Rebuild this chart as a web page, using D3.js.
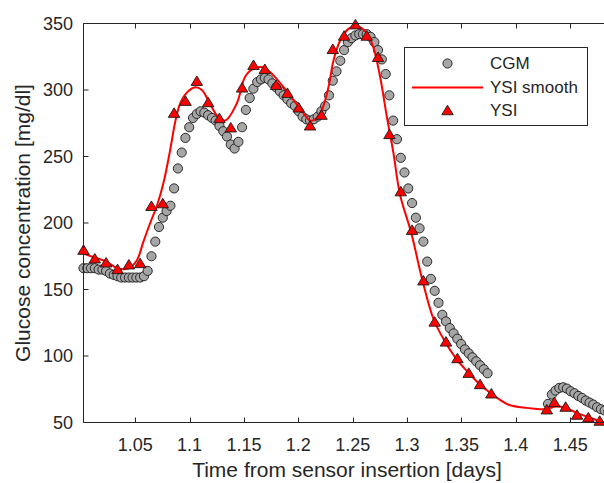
<!DOCTYPE html>
<html>
<head>
<meta charset="utf-8">
<script src="https://cdn.jsdelivr.net/npm/d3@7"></script>
<style>
  html, body { margin: 0; padding: 0; background: #fff; }
  svg { display: block; font-family: "Liberation Sans", Arial, sans-serif; }
</style>
</head>
<body>
<svg id="chart" width="604" height="483"></svg>
<script>
// CGM readings (every 5 min), days since sensor insertion
const cgmTime = [
  1.0025, 1.0060, 1.0094, 1.0129, 1.0164, 1.0199, 1.0233, 1.0268, 1.0303, 1.0338,
  1.0372, 1.0407, 1.0442, 1.0476, 1.0511, 1.0546, 1.0581, 1.0615, 1.0650, 1.0685,
  1.0719, 1.0754, 1.0789, 1.0824, 1.0858, 1.0893, 1.0928, 1.0962, 1.0997, 1.1032,
  1.1067, 1.1101, 1.1136, 1.1171, 1.1206, 1.1240, 1.1275, 1.1310, 1.1344, 1.1379,
  1.1414, 1.1449, 1.1483, 1.1518, 1.1553, 1.1587, 1.1622, 1.1657, 1.1692, 1.1726,
  1.1761, 1.1796, 1.1831, 1.1865, 1.1900, 1.1935, 1.1969, 1.2004, 1.2039, 1.2074,
  1.2108, 1.2143, 1.2178, 1.2212, 1.2247, 1.2282, 1.2317, 1.2351, 1.2386, 1.2421,
  1.2456, 1.2490, 1.2525, 1.2560, 1.2594, 1.2629, 1.2664, 1.2699, 1.2733, 1.2768,
  1.2803, 1.2837, 1.2872, 1.2907, 1.2942, 1.2976, 1.3011, 1.3046, 1.3081, 1.3115,
  1.3150, 1.3185, 1.3219, 1.3254, 1.3289, 1.3324, 1.3358, 1.3393, 1.3428, 1.3462,
  1.3497, 1.3532, 1.3567, 1.3601, 1.3636, 1.3671, 1.3706, 1.3740,
  1.4296, 1.4331, 1.4365, 1.4400, 1.4435, 1.4469, 1.4504, 1.4539, 1.4574, 1.4608,
  1.4643, 1.4678, 1.4712, 1.4747, 1.4782, 1.4817, 1.4851, 1.4886
];
const cgmValue = [
  166, 166, 166, 166, 165, 165, 164, 162, 161, 160,
  159, 159, 159, 159, 159, 159, 160, 164, 175, 186,
  197, 204, 209, 213, 226, 241, 253, 264, 272, 279,
  282, 284, 283, 281, 279, 277, 273, 269, 265, 259,
  256, 261, 272, 285, 294, 301, 306, 308, 309, 308,
  305, 302, 299, 296, 293, 290, 288, 284, 280, 278,
  277, 278, 280, 284, 288, 296, 307, 314, 322, 330,
  336, 339, 341, 342, 342, 342, 340, 336, 330, 323,
  312, 296, 277, 263, 249, 238, 226, 215, 204, 196,
  186, 171, 158, 149, 140, 131, 126, 121, 117, 113,
  109, 105, 102, 99, 96, 93, 90, 87,
  64, 71, 74, 76, 76.5, 75.5, 73.5, 72, 70, 68.5,
  66.5, 65, 63.5, 61.5, 60, 59, 58, 57
];

// YSI reference samples
const ysiTime = [
  1.0025, 1.0129, 1.0233, 1.0338, 1.0442, 1.0546, 1.0650, 1.0754, 1.0858, 1.0963,
  1.1067, 1.1171, 1.1275, 1.1379, 1.1483, 1.1588, 1.1692, 1.1796, 1.1900, 1.2004,
  1.2108, 1.2213, 1.2317, 1.2421, 1.2525, 1.2629, 1.2733, 1.2838, 1.2942, 1.3046,
  1.3150, 1.3254, 1.3358, 1.3463, 1.3567, 1.3671, 1.3775,
  1.4285, 1.4354, 1.4458, 1.4563, 1.4667, 1.4771
];
const ysiValue = [
  180, 173.5, 170.5, 165.5, 169, 170, 213, 215, 283, 292,
  307, 291, 279, 272, 302, 319, 316, 304, 298, 287,
  273.5, 281.5, 331, 341, 349.5, 341, 325, 267, 224, 195,
  157, 126, 111, 98.5, 87.5, 79, 72,
  60, 65.5, 62, 56, 54, 51.5
];

// YSI smoothed curve
const smoothTime = [
  1.0025, 1.0130, 1.0234, 1.0338, 1.0442, 1.0516, 1.0576, 1.0638, 1.0700, 1.0760,
  1.0822, 1.0868, 1.0914, 1.0975, 1.1052, 1.1113, 1.1174, 1.1251, 1.1327, 1.1435,
  1.1511, 1.1588, 1.1679, 1.1771, 1.1894, 1.2017, 1.2109, 1.2155, 1.2216, 1.2277,
  1.2323, 1.2384, 1.2461, 1.2538, 1.2630, 1.2690, 1.2752, 1.2814, 1.2874, 1.2936,
  1.3037, 1.3141, 1.3242, 1.3347, 1.3451, 1.3558, 1.3665, 1.3769, 1.3855, 1.3947,
  1.4100, 1.4223, 1.4284, 1.4360, 1.4459, 1.4565, 1.4667, 1.4774, 1.4875
];
const smoothValue = [
  177, 174, 171, 166, 166, 172, 186, 200, 213, 230,
  255, 276, 290, 298, 302, 300, 292, 281, 277, 290,
  310, 316, 317, 311, 299, 286, 277, 278, 285, 302,
  322, 337, 346, 348, 343, 332, 310, 280, 253, 221,
  193, 157, 128, 111, 98, 88, 79, 72, 67, 63,
  61, 60, 60, 62, 61, 57, 54, 51, 49
];

const xTicks = [1.05, 1.1, 1.15, 1.2, 1.25, 1.3, 1.35, 1.4, 1.45];
const xTickLabels = ['1.05', '1.1', '1.15', '1.2', '1.25', '1.3', '1.35', '1.4', '1.45'];
const yTicks = [50, 100, 150, 200, 250, 300, 350];

const legendNames = ['CGM', 'YSI smooth', 'YSI'];

const AXIS_COLOR = '#262626';
const CGM_FILL = '#a6a6a6';
const RED = '#ff0000';

const svg = d3.select('#chart');

const x = d3.scaleLinear().domain([1.0025, 1.4875]).range([83.5, 611]);
const y = d3.scaleLinear().domain([50, 350]).range([422.5, 23.5]);

// triangle centred on its bounding box
function triPath(w, h) {
  return `M0,${-h / 2}L${w / 2},${h / 2}L${-w / 2},${h / 2}Z`;
}

// CGM circles
const cgm = cgmTime.map((t, i) => ({ t, v: cgmValue[i] }));
svg.append('g')
  .selectAll('circle')
  .data(cgm)
  .enter().append('circle')
  .attr('cx', d => x(d.t))
  .attr('cy', d => y(d.v))
  .attr('r', 4.6)
  .attr('fill', CGM_FILL)
  .attr('stroke', '#1a1a1a')
  .attr('stroke-width', 0.9);

// smooth line
const line = d3.line()
  .x((d, i) => x(smoothTime[i]))
  .y(d => y(d))
  .curve(d3.curveCatmullRom.alpha(0.5));
svg.append('path')
  .datum(smoothValue)
  .attr('d', line)
  .attr('fill', 'none')
  .attr('stroke', RED)
  .attr('stroke-width', 2);

// YSI triangles
const ysi = ysiTime.map((t, i) => ({ t, v: ysiValue[i] }));
svg.append('g')
  .selectAll('path')
  .data(ysi)
  .enter().append('path')
  .attr('d', triPath(11.5, 9.5))
  .attr('transform', d => `translate(${x(d.t)},${y(d.v)})`)
  .attr('fill', RED)
  .attr('stroke', '#1a1a1a')
  .attr('stroke-width', 0.9);

// axes box
const axes = svg.append('g')
  .attr('fill', 'none')
  .attr('stroke', AXIS_COLOR)
  .attr('stroke-width', 1);
axes.append('line').attr('x1', x.range()[0]).attr('x2', x.range()[1]).attr('y1', y(50)).attr('y2', y(50));
axes.append('line').attr('x1', x.range()[0]).attr('x2', x.range()[1]).attr('y1', y(350)).attr('y2', y(350));
axes.append('line').attr('x1', x.range()[0]).attr('x2', x.range()[0]).attr('y1', y(50)).attr('y2', y(350));

xTicks.forEach(t => {
  const px = Math.round(x(t)) + 0.5;
  axes.append('line').attr('x1', px).attr('x2', px).attr('y1', y(50)).attr('y2', y(50) - 5);
  axes.append('line').attr('x1', px).attr('x2', px).attr('y1', y(350)).attr('y2', y(350) + 5);
});
yTicks.forEach(v => {
  axes.append('line').attr('x1', x.range()[0]).attr('x2', x.range()[0] + 5).attr('y1', y(v)).attr('y2', y(v));
});

// tick labels
svg.append('g')
  .selectAll('text')
  .data(xTicks)
  .enter().append('text')
  .attr('x', d => x(d))
  .attr('y', 451)
  .attr('text-anchor', 'middle')
  .style('font-size', '18px')
  .attr('fill', AXIS_COLOR)
  .text((d, i) => xTickLabels[i]);

svg.append('g')
  .selectAll('text')
  .data(yTicks)
  .enter().append('text')
  .attr('x', 73)
  .attr('y', d => y(d))
  .attr('dy', '0.35em')
  .attr('text-anchor', 'end')
  .style('font-size', '18px')
  .attr('fill', AXIS_COLOR)
  .text(d => d);

// axis labels
svg.append('text')
  .attr('x', 347)
  .attr('y', 477)
  .attr('text-anchor', 'middle')
  .style('font-size', '21px')
  .attr('fill', AXIS_COLOR)
  .text('Time from sensor insertion [days]');

svg.append('text')
  .attr('transform', 'translate(30,223) rotate(-90)')
  .attr('text-anchor', 'middle')
  .style('font-size', '21px')
  .attr('fill', AXIS_COLOR)
  .text('Glucose concentration [mg/dl]');

// legend
const lg = svg.append('g');
lg.append('rect')
  .attr('x', 404.5).attr('y', 47.5)
  .attr('width', 183).attr('height', 78)
  .attr('fill', '#fff')
  .attr('stroke', AXIS_COLOR)
  .attr('stroke-width', 1);
const rowY = [63.5, 87.5, 110];
lg.append('circle')
  .attr('cx', 447.5).attr('cy', rowY[0]).attr('r', 4.6)
  .attr('fill', CGM_FILL).attr('stroke', '#1a1a1a').attr('stroke-width', 0.9);
lg.append('line')
  .attr('x1', 412).attr('x2', 483).attr('y1', rowY[1]).attr('y2', rowY[1])
  .attr('stroke', RED).attr('stroke-width', 2);
lg.append('path')
  .attr('d', triPath(11.5, 9.5))
  .attr('transform', `translate(447.5,${rowY[2]})`)
  .attr('fill', RED).attr('stroke', '#1a1a1a').attr('stroke-width', 0.9);
lg.selectAll('text.lgtext')
  .data(legendNames)
  .enter().append('text')
  .attr('class', 'lgtext')
  .attr('x', 490)
  .attr('y', (d, i) => rowY[i])
  .attr('dy', '0.35em')
  .style('font-size', '17px')
  .attr('fill', AXIS_COLOR)
  .text(d => d);
</script>
</body>
</html>
